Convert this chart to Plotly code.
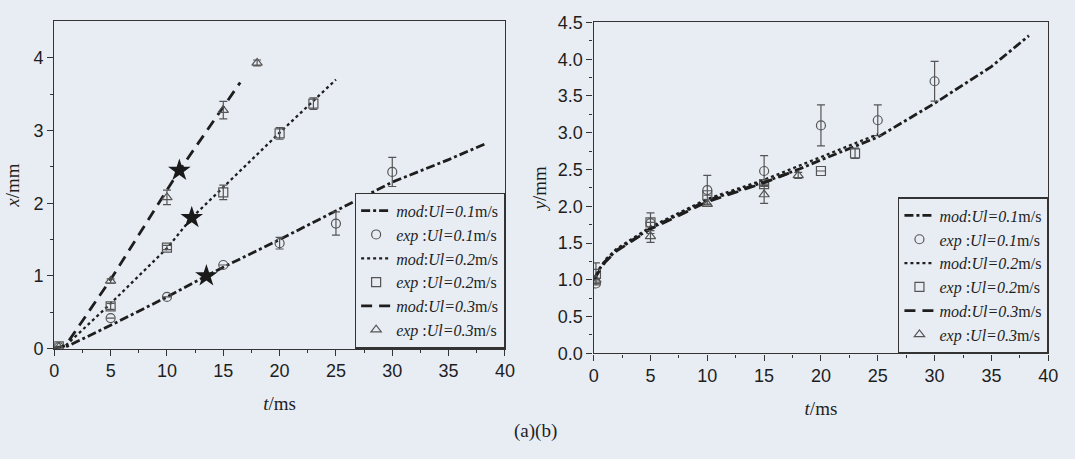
import plotly.graph_objects as go

# ---------------- data: left panel (x/mm vs t/ms) ----------------
t_mod1_a = [0, 1, 5, 10, 13.5, 15, 20, 25, 30, 35, 38.3]
x_mod1_a = [0, 0.02, 0.32, 0.71, 1.0, 1.12, 1.5, 1.89, 2.29, 2.6, 2.82]
t_mod2_a = [0, 1, 5, 10, 12.2, 15, 20, 25]
x_mod2_a = [0, 0.04, 0.62, 1.38, 1.8, 2.22, 2.97, 3.7]
t_mod3_a = [0, 1, 5, 11.1, 16.5]
x_mod3_a = [0, 0.04, 0.95, 2.45, 3.66]

t_star_a = [13.5, 12.2, 11.1]
x_star_a = [1.0, 1.8, 2.45]

t_exp1_a = [0.4, 5, 10, 15, 20, 25, 30]
x_exp1_a = [0.02, 0.42, 0.71, 1.15, 1.45, 1.72, 2.43]
e_exp1_a = [0, 0, 0, 0, 0.08, 0.16, 0.2]
t_exp2_a = [0.4, 5, 10, 15, 20, 23]
x_exp2_a = [0.03, 0.58, 1.39, 2.15, 2.96, 3.37]
e_exp2_a = [0, 0.04, 0.03, 0.1, 0.08, 0.08]
t_exp3_a = [0.4, 5, 10, 15, 18]
x_exp3_a = [0.02, 0.93, 2.08, 3.28, 3.93]
e_exp3_a = [0, 0.03, 0.1, 0.12, 0.04]

# ---------------- data: right panel (y/mm vs t/ms) ----------------
t_mod1_b = [0, 0.5, 1, 2, 5, 10, 15, 18, 20, 25, 30, 35, 38.3]
y_mod1_b = [1.0, 1.15, 1.25, 1.4, 1.7, 2.08, 2.33, 2.5, 2.63, 2.94, 3.4, 3.9, 4.32]
t_mod2_b = [0, 1, 2, 5, 10, 15, 20, 25]
y_mod2_b = [1.0, 1.27, 1.42, 1.72, 2.1, 2.36, 2.67, 2.98]
t_mod3_b = [0, 1, 2, 5, 10, 15, 18]
y_mod3_b = [1.0, 1.24, 1.39, 1.69, 2.06, 2.32, 2.5]

t_exp1_b = [0.2, 5, 10, 15, 20, 25, 30]
y_exp1_b = [0.95, 1.77, 2.22, 2.48, 3.1, 3.17, 3.7]
e_exp1_b = [0, 0.14, 0.2, 0.21, 0.28, 0.21, 0.27]
t_exp2_b = [0.2, 5, 10, 15, 20, 23]
y_exp2_b = [1.08, 1.78, 2.15, 2.3, 2.48, 2.72]
e_exp2_b = [0.15, 0, 0, 0, 0, 0.07]
t_exp3_b = [0.2, 5, 10, 15, 18]
y_exp3_b = [1.0, 1.59, 2.03, 2.16, 2.42]
e_exp3_b = [0, 0.08, 0, 0.12, 0.04]

labels = [
    "<i>mod</i>:<i>Ul=0.1</i>m/s",
    "<i>exp</i> :<i>Ul=0.1</i>m/s",
    "<i>mod</i>:<i>Ul=0.2</i>m/s",
    "<i>exp</i> :<i>Ul=0.2</i>m/s",
    "<i>mod</i>:<i>Ul=0.3</i>m/s",
    "<i>exp</i> :<i>Ul=0.3</i>m/s",
]

BG = "#e8edf4"
INK = "#1e1e1e"
MK = "#555555"

fig = go.Figure()


def add_panel(xa, ya, leg, mods, exps):
    dashes = ["dashdot", "dot", "11px,7px"]
    widths = [2.8, 2.3, 2.8]
    symbols = ["circle-open", "square-open", "triangle-up-open"]
    for i in range(3):
        tm, ym = mods[i]
        fig.add_trace(go.Scatter(
            x=tm, y=ym, mode="lines", name=labels[2 * i],
            line=dict(color=INK, width=widths[i], dash=dashes[i]),
            xaxis=xa, yaxis=ya, legend=leg))
        te, ye, ee = exps[i]
        fig.add_trace(go.Scatter(
            x=te, y=ye, mode="markers", name=labels[2 * i + 1],
            marker=dict(symbol=symbols[i], size=9, color=MK,
                        line=dict(color=MK, width=1.2)),
            error_y=dict(type="data", array=ee, visible=True,
                         color=MK, thickness=1.2, width=4),
            xaxis=xa, yaxis=ya, legend=leg))


add_panel("x", "y", "legend",
          [(t_mod1_a, x_mod1_a), (t_mod2_a, x_mod2_a), (t_mod3_a, x_mod3_a)],
          [(t_exp1_a, x_exp1_a, e_exp1_a), (t_exp2_a, x_exp2_a, e_exp2_a),
           (t_exp3_a, x_exp3_a, e_exp3_a)])

fig.add_trace(go.Scatter(
    x=t_star_a, y=x_star_a, mode="markers", showlegend=False,
    marker=dict(symbol="star", size=17, color="#1a1a1a"),
    xaxis="x", yaxis="y"))

add_panel("x2", "y2", "legend2",
          [(t_mod1_b, y_mod1_b), (t_mod2_b, y_mod2_b), (t_mod3_b, y_mod3_b)],
          [(t_exp1_b, y_exp1_b, e_exp1_b), (t_exp2_b, y_exp2_b, e_exp2_b),
           (t_exp3_b, y_exp3_b, e_exp3_b)])

tickfont = dict(family="Liberation Sans", size=18, color=INK)
titlefont = dict(family="Liberation Serif", size=19, color=INK)

axis_common = dict(
    showline=True, linecolor="#333333", linewidth=1.4, mirror=True,
    ticks="outside", ticklen=6, tickwidth=1.4, tickcolor="#333333",
    showgrid=False, zeroline=False, tickfont=tickfont,
)

xdom_a = [50 / 1075, 507 / 1075]
ydom_a = [(459 - 354) / 459, (459 - 12) / 459]
xdom_b = [597 / 1075, 1058 / 1075]
ydom_b = [(459 - 359) / 459, (459 - 13) / 459]

legfont = dict(family="Liberation Serif", size=16, color=INK)

fig.update_layout(
    width=1075, height=459,
    margin=dict(l=0, r=0, t=0, b=0),
    paper_bgcolor=BG, plot_bgcolor=BG,
    xaxis=dict(domain=xdom_a, range=[0, 40], dtick=5, anchor="y",
               minor=dict(dtick=2.5, ticks="outside", ticklen=3, tickcolor="#333333"),
               title=dict(text="<i>t</i>/ms", font=titlefont, standoff=16),
               **axis_common),
    yaxis=dict(domain=ydom_a, range=[0, 4.5], tickvals=[0, 1, 2, 3, 4], anchor="x",
               minor=dict(tickvals=[0.5, 1.5, 2.5, 3.5], ticks="outside", ticklen=3,
                          tickcolor="#333333"),
               title=dict(text="<i>x</i>/mm", font=titlefont, standoff=8),
               **axis_common),
    xaxis2=dict(domain=xdom_b, range=[0, 40], dtick=5, anchor="y2",
                minor=dict(dtick=2.5, ticks="outside", ticklen=3, tickcolor="#333333"),
                title=dict(text="<i>t</i>/ms", font=titlefont, standoff=16),
                **axis_common),
    yaxis2=dict(domain=ydom_b, range=[0, 4.5], dtick=0.5, tickformat=".1f", anchor="x2",
                minor=dict(dtick=0.25, ticks="outside", ticklen=3, tickcolor="#333333"),
                title=dict(text="<i>y</i>/mm", font=titlefont, standoff=6),
                **axis_common),
    legend=dict(x=xdom_a[1], xanchor="right", y=ydom_a[0], yanchor="bottom",
                bgcolor=BG, bordercolor="#333333", borderwidth=1.2,
                font=legfont, tracegroupgap=0, itemwidth=30),
    legend2=dict(x=xdom_b[1], xanchor="right", y=ydom_b[0], yanchor="bottom",
                 bgcolor=BG, bordercolor="#333333", borderwidth=1.2,
                 font=legfont, tracegroupgap=0, itemwidth=30),
    annotations=[dict(text="(a)(b)", x=0.5, y=(459 - 440) / 459, xref="paper",
                      yref="paper", showarrow=False, xanchor="center", yanchor="middle",
                      font=dict(family="Liberation Serif", size=19, color=INK))],
)

fig.write_html("out.html")
